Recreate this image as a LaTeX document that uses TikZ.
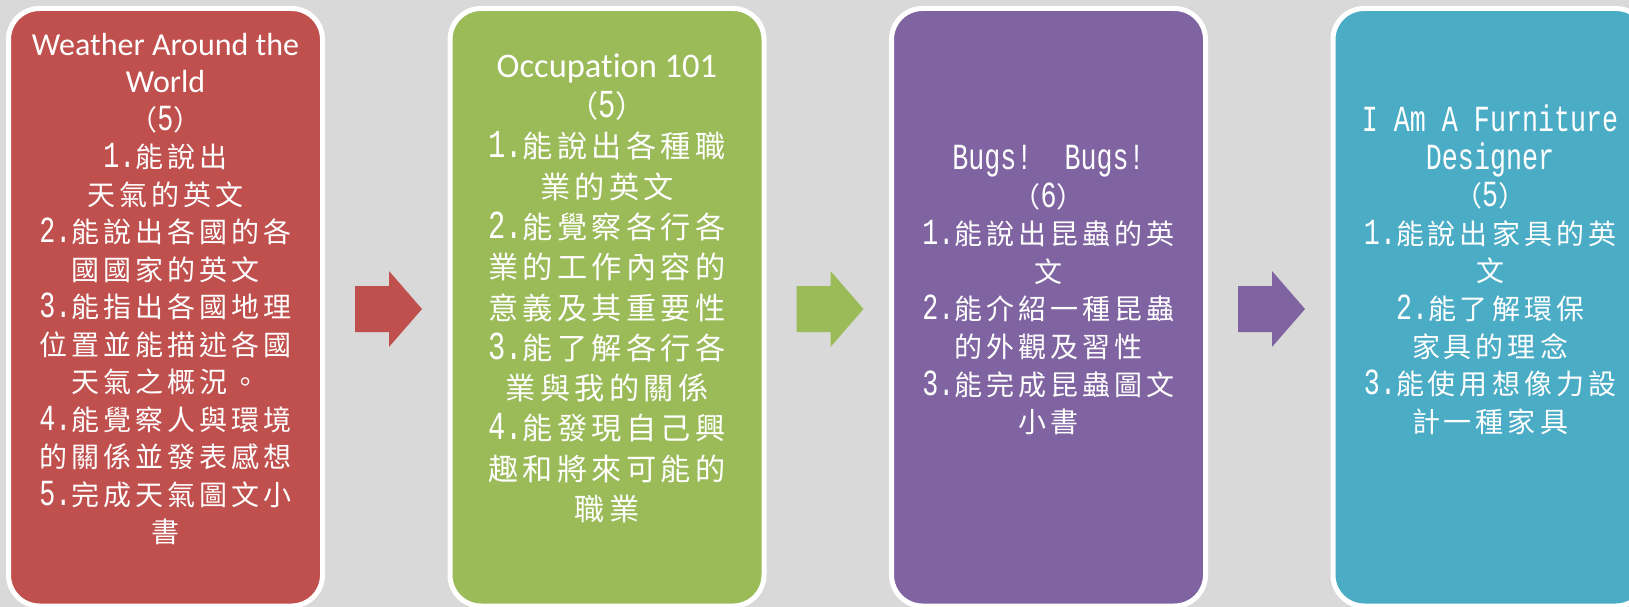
\documentclass[tikz,border=0pt]{standalone}
\usepackage{fontspec}
\newfontfamily\cjkfont[Scale=0.875,LetterSpace=14.3]{Noto Sans CJK TC}
\newfontfamily\hwfont[Scale=1.15,FakeStretch=0.725]{Liberation Mono}
\newfontfamily\calfont[Ligatures=NoCommon]{Carlito}
\newcommand\hw[1]{{\hwfont #1}}
\definecolor{bg}{HTML}{D9D9D9}
\definecolor{cred}{HTML}{C0504D}
\definecolor{cgreen}{HTML}{9BBB59}
\definecolor{cpurple}{HTML}{8064A2}
\definecolor{cblue}{HTML}{4BACC6}
\tikzset{
  box/.style={draw=white, line width=5pt, rounded corners=31pt, minimum width=314pt, minimum height=597.5pt, inner sep=0pt},
  t/.style={text=white, inner sep=0pt, text height=20pt, text depth=1pt, anchor=center, font=\fontsize{32}{38}\selectfont\cjkfont},
  tb/.style={t, text height=21.5pt, font=\fontsize{34.5}{40}\selectfont\cjkfont},
  blockarrow/.pic={\fill[#1] (0,-23) -- (34,-23) -- (34,-38) -- (67,0) -- (34,38) -- (34,23) -- (0,23) -- cycle;}
}
\begin{document}
\begin{tikzpicture}[x=1pt,y=-1pt]
\fill[bg] (0,0) rectangle (1629,607);
\useasboundingbox (0,0) rectangle (1629,607);
% boxes
\node[box, fill=cred]    (b1) at (165.5,307.25) {};
\node[box, fill=cgreen]  (b2) at (607,307.25) {};
\node[box, fill=cpurple] (b3) at (1048.5,307.25) {};
\node[box, fill=cblue]   (b4) at (1490,307.25) {};
% arrows
\pic at (355,309) {blockarrow=cred};
\pic at (796.5,309) {blockarrow=cgreen};
\pic at (1238,309) {blockarrow=cpurple};
% box 1
\node[t] (a1)  at (165.5,45.8)  {\calfont Weather Around the};
\node[t] (a2)  at (165.5,83.3)  {\calfont World};
\node[t] (a3)  at (165.5,120.8) {（\hw{5}）};
\node[t] (a4)  at (165.5,158.3) {\hw{1.}能說出};
\node[t] (a5)  at (165.5,195.8) {天氣的英文};
\node[t] (a6)  at (165.5,233.3) {\hw{2.}能說出各國的各};
\node[t] (a7)  at (165.5,270.8) {國國家的英文};
\node[t] (a8)  at (165.5,308.3) {\hw{3.}能指出各國地理};
\node[t] (a9)  at (165.5,345.8) {位置並能描述各國};
\node[t] (a10) at (165.5,383.3) {天氣之概況。};
\node[t] (a11) at (165.5,420.8) {\hw{4.}能覺察人與環境};
\node[t] (a12) at (165.5,458.3) {的關係並發表感想};
\node[t] (a13) at (165.5,495.8) {\hw{5.}完成天氣圖文小};
\node[t] (a14) at (165.5,533.3) {書};
% box 2
\node[tb] (c1)  at (607,67)    {\calfont Occupation 101};
\node[tb] (c2)  at (607,107.3) {（\hw{5}）};
\node[tb] (c3)  at (607,147.6) {\hw{1.}能說出各種職};
\node[tb] (c4)  at (607,187.9) {業的英文};
\node[tb] (c5)  at (607,228.2) {\hw{2.}能覺察各行各};
\node[tb] (c6)  at (607,268.5) {業的工作內容的};
\node[tb] (c7)  at (607,308.8) {意義及其重要性};
\node[tb] (c8)  at (607,349.1) {\hw{3.}能了解各行各};
\node[tb] (c9)  at (607,389.4) {業與我的關係};
\node[tb] (c10) at (607,429.7) {\hw{4.}能發現自己興};
\node[tb] (c11) at (607,470)   {趣和將來可能的};
\node[tb] (c12) at (607,510.3) {職業};
% box 3
\node[t] (d1) at (1048.5,160)   {\hw{Bugs!~~Bugs!}};
\node[t] (d2) at (1048.5,197.6) {（\hw{6}）};
\node[t] (d3) at (1048.5,235.2) {\hw{1.}能說出昆蟲的英};
\node[t] (d4) at (1048.5,272.8) {文};
\node[t] (d5) at (1048.5,310.4) {\hw{2.}能介紹一種昆蟲};
\node[t] (d6) at (1048.5,348)   {的外觀及習性};
\node[t] (d7) at (1048.5,385.6) {\hw{3.}能完成昆蟲圖文};
\node[t] (d8) at (1048.5,423.2) {小書};
% box 4
\node[t] (e1) at (1490,122)   {\hw{I Am A Furniture}};
\node[t] (e2) at (1490,159.6) {\hw{Designer}};
\node[t] (e3) at (1490,197.2) {（\hw{5}）};
\node[t] (e4) at (1490,234.8) {\hw{1.}能說出家具的英};
\node[t] (e5) at (1490,272.4) {文};
\node[t] (e6) at (1490,310)   {\hw{2.}能了解環保};
\node[t] (e7) at (1490,347.6) {家具的理念};
\node[t] (e8) at (1490,385.2) {\hw{3.}能使用想像力設};
\node[t] (e9) at (1490,422.8) {計一種家具};
\end{tikzpicture}
\end{document}
